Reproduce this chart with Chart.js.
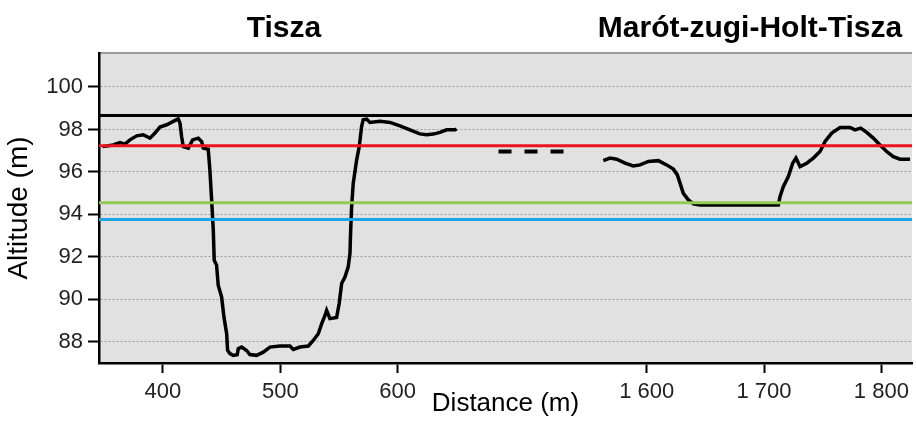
<!DOCTYPE html>
<html><head><meta charset="utf-8">
<script src="https://cdn.jsdelivr.net/npm/chart.js@4"></script>
<style>html,body{margin:0;padding:0;background:#fff;overflow:hidden}canvas{display:block}</style>
</head><body>
<canvas id="c" width="916" height="423"></canvas>
<script>
// ---- data ----
const segmentTitles = ['Tisza', 'Marót-zugi-Holt-Tisza'];
const xTickValues = [400, 500, 600, 1600, 1700, 1800];
const yTickValues = [88, 90, 92, 94, 96, 98, 100];

const tiszaDist = [348.6,357.6,363.4,367.6,371.9,377.6,383.2,388.9,393.2,397.4,403.2,408.8,413.0,414.5,415.9,417.3,421.6,425.3,430.1,433.0,434.3,438.6,440.0,441.5,442.9,443.7,445.7,447.1,450.0,452.0,454.3,455.1,457.1,459.9,463.3,464.2,467.1,471.3,474.1,479.8,485.5,491.2,499.7,508.2,511.1,516.8,523.9,528.1,532.4,535.3,538.1,539.5,542.3,548.0,550.2,552.3,555.1,557.9,559.4,560.0,560.8,562.2,565.1,567.3,569.3,570.7,573.6,576.4,584.9,593.5,602.0,610.5,619.0,624.7,630.4,636.1,641.8,648.9,650.3];
const tiszaAlt  = [97.19,97.27,97.38,97.31,97.51,97.70,97.75,97.59,97.83,98.11,98.22,98.38,98.50,98.30,97.67,97.19,97.12,97.51,97.59,97.43,97.12,97.07,96.09,94.68,93.26,91.84,91.61,90.66,90.11,89.16,88.38,87.59,87.44,87.36,87.39,87.67,87.75,87.59,87.40,87.36,87.51,87.75,87.80,87.80,87.64,87.75,87.80,88.06,88.38,88.85,89.24,89.48,89.09,89.14,89.80,90.74,91.05,91.53,92.16,93.26,94.36,95.47,96.57,97.19,98.14,98.46,98.49,98.33,98.38,98.33,98.17,97.98,97.79,97.75,97.78,97.86,97.98,97.98,98.02];

const holtDist = [1563.0,1568.7,1574.4,1581.5,1588.6,1594.3,1601.4,1609.9,1617.0,1622.7,1626.1,1628.4,1631.2,1635.5,1639.8,1645.4,1680.0,1712.2,1713.6,1716.4,1720.7,1724.4,1727.2,1730.7,1736.4,1742.0,1747.7,1752.0,1757.7,1764.8,1773.3,1777.5,1782.4,1787.5,1793.1,1798.8,1804.5,1810.2,1815.9,1824.4];
const holtAlt  = [96.53,96.65,96.60,96.41,96.28,96.33,96.49,96.53,96.33,96.13,95.86,95.47,94.99,94.68,94.49,94.44,94.44,94.44,94.83,95.30,95.78,96.41,96.65,96.25,96.41,96.65,96.96,97.43,97.83,98.09,98.09,97.98,98.06,97.86,97.59,97.27,96.96,96.72,96.60,96.60];

const levelValues = [98.66, 97.23, 94.55, 93.76];
const levelColors = ['#000000', '#e8161c', '#8fcb4e', '#19a6e2'];

const breakMarkDist = [686, 742];   // position in the axis gap
const breakMarkAlt = 96.96;

// ---- broken-axis mapping ----
const axisGap = 787.7;     // distance removed between the two segments
const xMin = 345.5, xMax = 1038.4;
const toAxis = d => (d > 1000 ? d - axisGap : d);
const fmt = n => String(n).replace(/\B(?=(\d{3})+(?!\d))/g, ' ');

const FONT = 'Liberation Sans, Arial, sans-serif';

const pts = (ds, as) => ds.map((d, i) => ({ x: toAxis(d), y: as[i] }));

const datasets = [];
levelValues.forEach((v, i) => datasets.push({
  data: [{ x: xMin, y: v }, { x: xMax, y: v }],
  borderColor: levelColors[i], borderWidth: 3, pointRadius: 0
}));
datasets.push({ data: pts(tiszaDist, tiszaAlt), borderColor: '#000', borderWidth: 3.5, pointRadius: 0 });
datasets.push({ data: pts(holtDist, holtAlt), borderColor: '#000', borderWidth: 3.5, pointRadius: 0 });
datasets.push({ data: breakMarkDist.map(d => ({ x: d, y: breakMarkAlt })), borderColor: '#000', borderWidth: 4, borderDash: [13, 13], pointRadius: 0 });

const decor = {
  id: 'decor',
  beforeDraw(chart) {
    const { ctx, chartArea: a } = chart;
    ctx.save();
    ctx.fillStyle = '#e1e1e1';
    ctx.fillRect(a.left, a.top, a.right - a.left, a.bottom - a.top);
    ctx.strokeStyle = '#9a9a9a';
    ctx.lineWidth = 2;
    ctx.beginPath(); ctx.moveTo(a.left, a.top); ctx.lineTo(a.right, a.top); ctx.stroke();
    ctx.restore();
  },
  afterDraw(chart) {
    const ctx = chart.ctx;
    ctx.save();
    ctx.fillStyle = '#000';
    ctx.font = 'bold 30px ' + FONT;
    ctx.textAlign = 'center';
    ctx.textBaseline = 'alphabetic';
    ctx.fillText(segmentTitles[0], 284, 37);
    ctx.fillText(segmentTitles[1], 750, 37);
    ctx.restore();
  }
};

new Chart(document.getElementById('c'), {
  type: 'line',
  data: { datasets },
  options: {
    responsive: false, animation: false, devicePixelRatio: 1,
    layout: { padding: { top: 53, right: 4, left: 0, bottom: 0 } },
    plugins: { legend: { display: false }, tooltip: { enabled: false } },
    elements: { line: { tension: 0, borderCapStyle: 'butt' } },
    scales: {
      x: {
        type: 'linear', min: xMin, max: xMax,
        afterBuildTicks: s => { s.ticks = xTickValues.map(v => ({ value: toAxis(v) })); },
        afterFit: s => { s.height = 60; },
        grid: { drawOnChartArea: false, drawTicks: true, tickLength: 10, tickColor: '#000', tickWidth: 2 },
        border: { display: true, color: '#000', width: 2.5 },
        ticks: { autoSkip: false, maxRotation: 0, padding: 6, color: '#222',
          font: { family: FONT, size: 22 },
          callback: (v, i) => fmt(xTickValues[i]) },
        title: { display: true, text: 'Distance (m)', color: '#000',
          font: { family: FONT, size: 26 }, padding: { top: 0, bottom: 4 } }
      },
      y: {
        type: 'linear', min: 87, max: 101.6,
        afterBuildTicks: s => { s.ticks = yTickValues.map(v => ({ value: v })); },
        afterFit: s => { s.width = 99; },
        grid: { color: '#9c9c9c', lineWidth: 1, drawTicks: true, tickLength: 11, tickColor: '#000', tickWidth: 2 },
        border: { display: true, color: '#000', width: 2.5, dash: [2, 2] },
        ticks: { padding: 5, color: '#222', font: { family: FONT, size: 22 } },
        title: { display: true, text: 'Altitude (m)', color: '#000',
          font: { family: FONT, size: 28 }, padding: { top: 2, bottom: 4 } }
      }
    }
  },
  plugins: [decor]
});
</script>
</body></html>
